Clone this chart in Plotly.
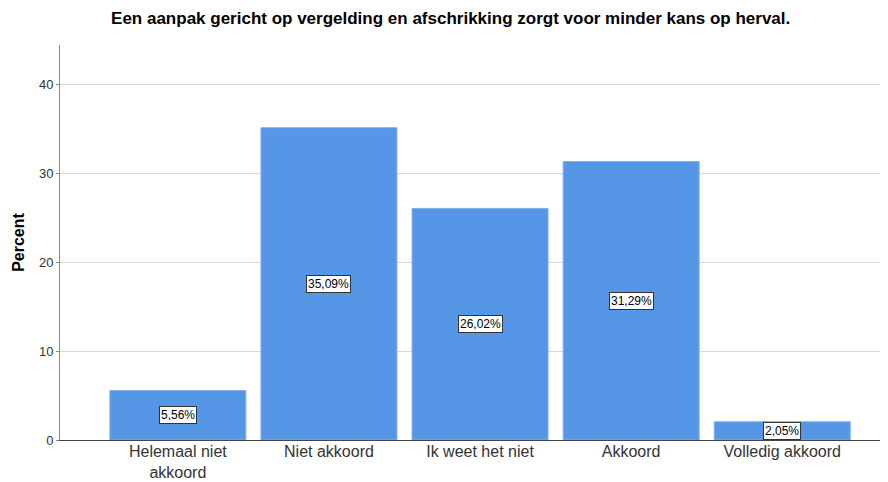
import plotly.graph_objects as go

categories = ["Helemaal niet<br>akkoord", "Niet akkoord", "Ik weet het niet", "Akkoord", "Volledig akkoord"]
percents = [5.56, 35.09, 26.02, 31.29, 2.05]
y_ticks = [0, 10, 20, 30, 40]
title_text = "Een aanpak gericht op vergelding en afschrikking zorgt voor minder kans op herval."
y_title = "Percent"

bar_color = "#5596E6"

fig = go.Figure()
fig.add_trace(go.Bar(
    x=list(range(len(categories))),
    y=percents,
    width=0.9,
    marker=dict(color=bar_color, line=dict(color="#7fb0ee", width=1)),
    hoverinfo="skip",
))

for i, v in enumerate(percents):
    fig.add_annotation(
        x=i, y=v / 2, xref="x", yref="y",
        text=f"{v:.2f}%".replace(".", ","),
        showarrow=False,
        font=dict(family="Liberation Sans, Arial", size=12, color="#000000"),
        bgcolor="#ffffff", bordercolor="#333333", borderwidth=1, borderpad=1,
    )

fig.update_layout(
    width=888, height=482,
    margin=dict(l=52, r=8, t=37, b=50),
    paper_bgcolor="#ffffff", plot_bgcolor="#ffffff",
    showlegend=False,
    title=dict(
        text=title_text,
        x=0.4985, xanchor="center", y=1 - 10 / 482, yanchor="middle", yref="container",
        font=dict(family="Liberation Sans, Arial", size=17, color="#000000", weight="bold"),
    ),
    font=dict(family="Liberation Sans, Arial", color="#333333"),
)

fig.update_xaxes(
    range=[-0.78, 4.70],
    tickmode="array", tickvals=list(range(len(categories))), ticktext=categories,
    tickfont=dict(size=16, color="#333333"),
    ticklabelstandoff=-3,
    showgrid=False, zeroline=False,
    showline=True, linecolor="#444444", linewidth=1,
    ticks="",
)
fig.update_yaxes(
    range=[0, 395 / 8.9],
    tickmode="array", tickvals=y_ticks,
    tickfont=dict(size=13, color="#333333"),
    showgrid=True, gridcolor="#d9d9d9", gridwidth=1,
    zeroline=False,
    showline=True, linecolor="#888888", linewidth=1,
    ticks="outside", ticklen=3, tickcolor="#888888",
    title=dict(text=y_title, standoff=10,
               font=dict(family="Liberation Sans, Arial", size=16, color="#000000", weight="bold")),
)

fig.write_html("out.html")
